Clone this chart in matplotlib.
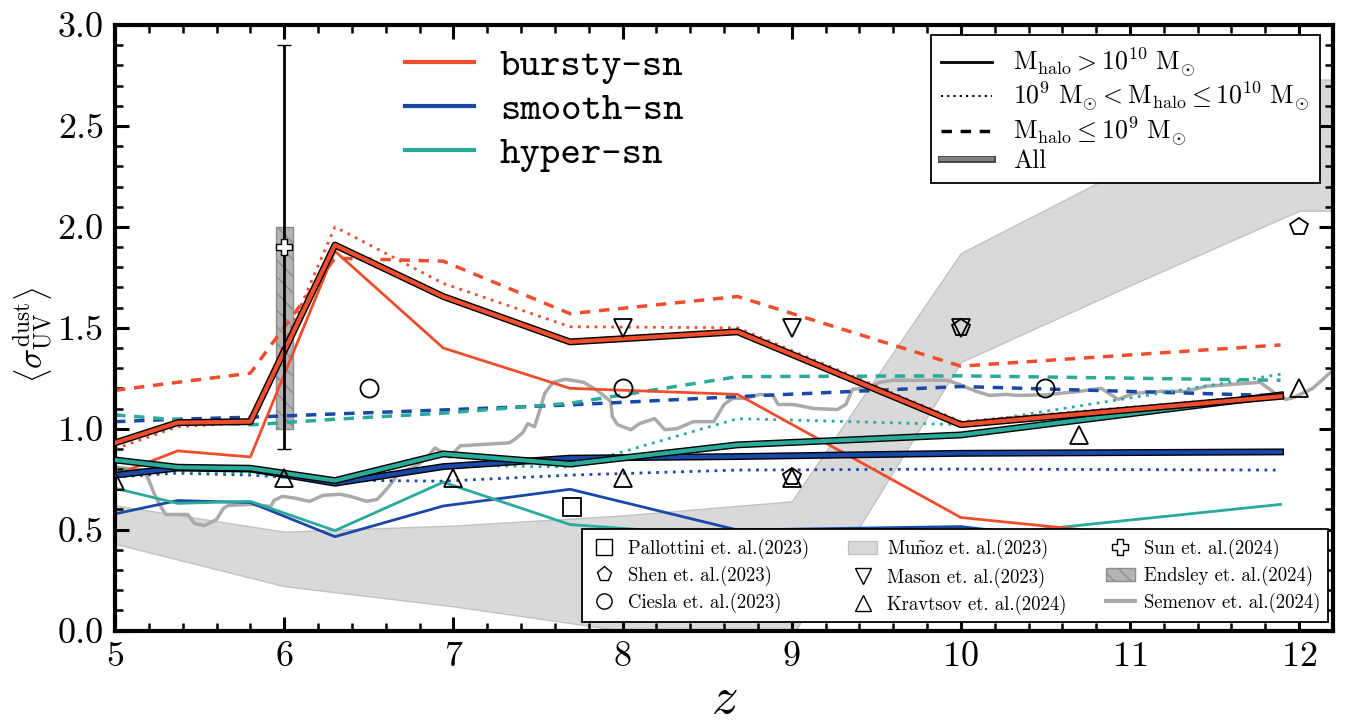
import numpy as np
import matplotlib
matplotlib.use('Agg')
import matplotlib.pyplot as plt
import matplotlib.patheffects as pe
from matplotlib.lines import Line2D
from matplotlib.patches import Patch, Rectangle
from matplotlib.ticker import MultipleLocator, FormatStrFormatter

plt.rcParams['font.family'] = 'serif'
plt.rcParams['font.serif'] = ['cmr10']
plt.rcParams['mathtext.fontset'] = 'cm'
plt.rcParams['axes.unicode_minus'] = False
plt.rcParams['axes.formatter.use_mathtext'] = True

# simulation snapshots
z_sim = [5.0, 5.37, 5.8, 6.3, 6.94, 7.69, 8.68, 10.0, 11.89]

# bursty-sn
bursty_all = [0.93, 1.03, 1.035, 1.91, 1.655, 1.43, 1.48, 1.02, 1.16]
bursty_hi = [0.77, 0.89, 0.86, 1.88, 1.40, 1.20, 1.17, 0.56, 0.40]
bursty_mid = [0.90, 1.01, 1.03, 2.00, 1.72, 1.505, 1.50, 1.035, 1.17]
bursty_lo = [1.19, 1.23, 1.275, 1.845, 1.83, 1.57, 1.655, 1.31, 1.415]

# smooth-sn
smooth_all = [0.77, 0.805, 0.80, 0.73, 0.812, 0.854, 0.862, 0.878, 0.885]
smooth_hi = [0.578, 0.644, 0.634, 0.465, 0.617, 0.70, 0.498, 0.515, 0.33]
smooth_mid = [0.76, 0.78, 0.77, 0.745, 0.74, 0.77, 0.795, 0.80, 0.795]
smooth_lo = [1.035, 1.047, 1.057, 1.073, 1.093, 1.118, 1.159, 1.209, 1.163]

# hyper-sn
hyper_all = [0.845, 0.809, 0.804, 0.743, 0.875, 0.825, 0.92, 0.969, 1.167]
hyper_hi = [0.705, 0.63, 0.64, 0.495, 0.735, 0.525, 0.465, 0.46, 0.625]
hyper_mid = [0.80, 0.79, 0.78, 0.745, 0.82, 0.81, 1.05, 1.02, 1.27]
hyper_lo = [1.068, 1.044, 1.019, 1.047, 1.077, 1.126, 1.258, 1.262, 1.24]

# observations
pallottini_z, pallottini_s = [7.7], [0.61]
shen_z, shen_s = [9.0, 10.0, 12.0], [0.76, 1.5, 2.0]
ciesla_z, ciesla_s = [6.5, 8.0, 10.5], [1.2, 1.2, 1.2]
mason_z, mason_s = [8.0, 9.0, 10.0], [1.5, 1.5, 1.5]
kravtsov_z = [5.0, 6.0, 7.0, 8.0, 9.0, 10.7, 12.0]
kravtsov_s = [0.74, 0.755, 0.755, 0.755, 0.755, 0.97, 1.20]
sun_z, sun_s, sun_err = 6.0, 1.9, 1.0
endsley_z = [5.95, 6.05]
endsley_s = [1.0, 2.0]

munoz_z = [5.0, 6.0, 7.0, 8.0, 9.0, 10.0, 11.0, 12.0, 12.2]
munoz_lo = [0.43, 0.22, 0.12, 0.0, -0.03, 1.33, 1.71, 2.08, 2.08]
munoz_hi = [0.62, 0.49, 0.52, 0.57, 0.64, 1.87, 2.30, 2.73, 2.73]

semenov_z = [5.0, 5.11, 5.17, 5.20, 5.23, 5.27, 5.30, 5.43, 5.47, 5.53, 5.60, 5.64,
             5.67, 5.80, 5.92, 5.94, 5.99, 6.07, 6.15, 6.23, 6.33, 6.39, 6.49, 6.55,
             6.61, 6.68, 6.78, 6.85, 6.89, 6.94, 6.98, 7.04, 7.33, 7.36, 7.41, 7.44,
             7.48, 7.51, 7.54, 7.59, 7.66, 7.77, 7.85, 7.93, 7.94, 7.97, 8.05, 8.10,
             8.19, 8.25, 8.32, 8.42, 8.54, 8.60, 8.65, 8.73, 8.81, 8.89, 8.92, 9.01,
             9.13, 9.27, 9.32, 9.36, 9.46, 9.52, 9.60, 9.92, 9.99, 10.09, 10.17, 10.27,
             10.33, 10.51, 10.70, 10.83, 10.93, 11.02, 11.18, 11.33, 11.45, 11.61, 11.77,
             11.85, 11.92, 11.97, 12.08, 12.18, 12.25]
semenov_s = [0.81, 0.80, 0.795, 0.745, 0.68, 0.615, 0.575, 0.575, 0.53, 0.52, 0.55, 0.605,
             0.62, 0.625, 0.615, 0.645, 0.665, 0.655, 0.64, 0.67, 0.675, 0.665, 0.64, 0.65,
             0.705, 0.78, 0.815, 0.86, 0.905, 0.88, 0.86, 0.915, 0.93, 0.945, 0.98, 1.025,
             1.01, 1.09, 1.175, 1.23, 1.245, 1.23, 1.19, 1.135, 1.06, 1.02, 0.995, 1.025,
             1.05, 0.995, 1.0, 1.035, 1.035, 1.12, 1.15, 1.15, 1.17, 1.165, 1.12, 1.12,
             1.10, 1.095, 1.12, 1.195, 1.205, 1.23, 1.24, 1.24, 1.22, 1.185, 1.165, 1.17,
             1.165, 1.168, 1.185, 1.20, 1.145, 1.175, 1.185, 1.185, 1.21, 1.22, 1.23,
             1.18, 1.145, 1.155, 1.20, 1.275, 1.32]

c_bursty = '#ee4e2e'
c_smooth = '#1a48a6'
c_hyper = '#2aaa98'

fig = plt.figure(figsize=(13.47, 7.22), dpi=100)
ax = fig.add_axes([0.0854, 0.1267, 0.9042, 0.8386])

ax.fill_between(munoz_z, munoz_lo, munoz_hi, facecolor='#d9d9d9', edgecolor='#c2c2c2', lw=1, zorder=0)
ax.plot(semenov_z, semenov_s, color='#aaaaaa', lw=2.5, zorder=1)

rect = Rectangle((endsley_z[0], endsley_s[0]), endsley_z[1] - endsley_z[0], endsley_s[1] - endsley_s[0],
                 facecolor='#b3b3b3', edgecolor='#8c8c8c', hatch='\\\\', lw=1, zorder=1)
ax.add_patch(rect)

all_fx = [pe.Stroke(linewidth=5, foreground='k'), pe.Normal()]
for c, s_hi, s_mid, s_lo in [(c_smooth, smooth_hi, smooth_mid, smooth_lo),
                             (c_hyper, hyper_hi, hyper_mid, hyper_lo),
                             (c_bursty, bursty_hi, bursty_mid, bursty_lo)]:
    ax.plot(z_sim, s_hi, color=c, lw=2, ls='-', zorder=2)
    ax.plot(z_sim, s_mid, color=c, lw=2, ls=(0, (1, 2)), zorder=2)
    ax.plot(z_sim, s_lo, color=c, lw=2.5, ls=(0, (3, 2.5)), zorder=2)
for c, s_all in [(c_smooth, smooth_all), (c_hyper, hyper_all), (c_bursty, bursty_all)]:
    ax.plot(z_sim, s_all, color=c, lw=3, zorder=3, path_effects=all_fx)

ms = 13
mk = dict(ls='none', mfc='none', mec='k', mew=1.3, ms=ms, zorder=5)
ax.plot(pallottini_z, pallottini_s, marker='s', **mk)
ax.plot(shen_z, shen_s, marker='p', **mk)
ax.plot(ciesla_z, ciesla_s, marker='o', **mk)
ax.plot(mason_z, mason_s, marker='v', **mk)
ax.plot(kravtsov_z, kravtsov_s, marker='^', **mk)
ax.errorbar([sun_z], [sun_s], yerr=[[sun_err], [sun_err]], fmt='P', color='k', mfc='white', mec='k',
            mew=1, ms=12, elinewidth=2, capsize=5, capthick=1.5, zorder=6)

ax.set_xlim(5, 12.2)
ax.set_ylim(0, 3.0)
ax.xaxis.set_major_locator(MultipleLocator(1))
ax.xaxis.set_minor_locator(MultipleLocator(0.2))
ax.yaxis.set_major_locator(MultipleLocator(0.5))
ax.yaxis.set_minor_locator(MultipleLocator(0.1))
ax.yaxis.set_major_formatter(FormatStrFormatter('%.1f'))
ax.tick_params(which='both', direction='in', top=True, right=True, labelsize=26)
ax.tick_params(which='major', length=10, width=2.2, pad=8)
ax.tick_params(which='minor', length=6, width=1.8)
for sp in ax.spines.values():
    sp.set_linewidth(3)

ax.set_xlabel(r'$z$', fontsize=38, labelpad=2)
ax.set_ylabel(r'$\left\langle \sigma_{\rm UV}^{\rm dust} \right\rangle$', fontsize=24)
ax.yaxis.set_label_coords(-0.049, 0.488)

# model legend
h_model = [Line2D([], [], color=c_bursty, lw=3),
           Line2D([], [], color=c_smooth, lw=3),
           Line2D([], [], color=c_hyper, lw=3)]
leg1 = ax.legend(h_model, ['bursty-sn', 'smooth-sn', 'hyper-sn'], loc='upper left',
                 bbox_to_anchor=(0.238, 0.962), frameon=False, prop={'family': 'cmtt10', 'size': 28},
                 handlelength=1.77, handletextpad=0.67, labelspacing=0.2, borderpad=0, borderaxespad=0)
ax.add_artist(leg1)

# halo mass legend
h_mass = [Line2D([], [], color='k', lw=2, ls='-'),
          Line2D([], [], color='k', lw=1.5, ls=(0, (1, 2))),
          Line2D([], [], color='k', lw=2.5, ls=(0, (3, 2.5))),
          Line2D([], [], color='grey', lw=3, path_effects=[pe.Stroke(linewidth=5, foreground='#444444'), pe.Normal()])]
l_mass = [r'$\rm M_{halo} > 10^{10}\ M_{\odot}$',
          r'$\rm 10^{9}\ M_{\odot} < M_{halo} \leq 10^{10}\ M_{\odot}$',
          r'$\rm M_{halo} \leq 10^{9}\ M_{\odot}$',
          'All']
leg2 = ax.legend(h_mass, l_mass, loc='upper right', bbox_to_anchor=(0.989, 0.983), fontsize=18.5,
                 frameon=True, fancybox=False, edgecolor='k', framealpha=1, handlelength=2.0,
                 labelspacing=0.05, borderaxespad=0)
leg2.get_frame().set_linewidth(1.3)
ax.add_artist(leg2)

# observation legend
omk = dict(ls='none', mfc='none', mec='k', mew=1, ms=11)
h_obs = [Line2D([], [], marker='s', **omk),
         Line2D([], [], marker='p', **omk),
         Line2D([], [], marker='o', **omk),
         Patch(facecolor='#d9d9d9', edgecolor='#c2c2c2'),
         Line2D([], [], marker='v', **omk),
         Line2D([], [], marker='^', **omk),
         Line2D([], [], marker='P', ls='none', mfc='white', mec='k', mew=1, ms=11),
         Patch(facecolor='#b3b3b3', edgecolor='#8c8c8c', hatch='\\\\'),
         Line2D([], [], color='#aaaaaa', lw=3)]
l_obs = ['Pallottini et. al.(2023)', 'Shen et. al.(2023)', 'Ciesla et. al.(2023)',
         r'Mu$\tilde{\mathrm{n}}$oz et. al.(2023)', 'Mason et. al.(2023)', 'Kravtsov et. al.(2024)',
         'Sun et. al.(2024)', 'Endsley et. al.(2024)', 'Semenov et. al.(2024)']
leg3 = ax.legend(h_obs, l_obs, loc='lower right', bbox_to_anchor=(0.996, 0.014), ncol=3, fontsize=13.5,
                 frameon=True, fancybox=False, edgecolor='k', framealpha=1, handlelength=1.55,
                 handletextpad=0.5, labelspacing=0.35, columnspacing=2.1, borderaxespad=0)
leg3.get_frame().set_linewidth(1.3)
leg3.set_zorder(10)

fig.savefig('out.png', dpi=100)
